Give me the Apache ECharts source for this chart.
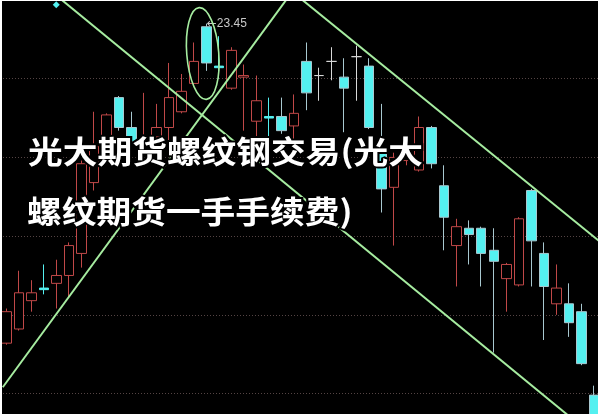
<!DOCTYPE html>
<html><head><meta charset="utf-8">
<script src="https://cdn.jsdelivr.net/npm/echarts@6/dist/echarts.min.js"></script>
<style>html,body{margin:0;padding:0;background:#000;}#c{width:600px;height:414px;}</style>
</head><body><div id="c"></div>
<script>
const categories = ['D01','D02','D03','D04','D05','D06','D07','D08','D09','D10','D11','D12','D13','D14','D15','D16','D17','D18','D19','D20','D21','D22','D23','D24','D25','D26','D27','D28','D29','D30','D31','D32','D33','D34','D35','D36','D37','D38','D39','D40','D41','D42','D43','D44','D45','D46','D47','D48'];
const opens  = [21.42,21.51,21.69,21.77,21.80,21.85,21.99,22.44,22.73,22.98,22.79,22.67,22.73,22.79,22.89,23.07,23.43,23.18,23.04,23.11,22.83,22.86,22.86,22.80,23.21,23.12,23.21,23.11,23.24,23.18,22.64,22.41,22.58,22.52,22.79,22.42,22.04,22.15,22.15,22.01,21.83,21.79,22.39,21.99,21.67,21.67,21.62,21.09];
const closes = [21.62,21.74,21.74,21.76,21.85,22.04,22.56,22.67,22.87,22.79,22.70,22.70,22.79,22.98,23.02,23.21,23.20,23.17,23.28,23.12,22.96,22.85,22.77,22.88,23.01,23.12,23.21,23.04,23.24,22.79,22.40,22.60,22.63,22.79,22.56,22.22,22.16,22.11,21.99,21.94,21.92,22.21,22.07,21.78,21.77,21.55,21.29,20.93];
const lows   = [21.41,21.50,21.62,21.73,21.64,21.71,21.90,22.39,22.56,22.77,22.69,22.56,22.65,22.71,22.88,23.06,23.15,23.10,23.03,22.77,22.73,22.71,22.75,22.71,22.90,22.96,23.09,22.76,22.96,22.78,22.25,22.04,22.55,22.51,22.53,22.01,21.78,21.92,21.78,21.36,21.62,21.78,21.78,21.44,21.60,21.46,21.28,20.90];
const highs  = [21.64,21.88,21.82,21.92,21.95,22.06,22.58,22.89,22.88,22.99,22.89,23.01,22.94,23.20,23.13,23.33,23.45,23.37,23.30,23.19,23.12,22.98,22.98,23.00,23.33,23.17,23.30,23.23,23.31,23.23,22.94,22.63,22.66,22.86,22.80,22.55,22.21,22.20,22.16,22.15,21.93,22.22,22.40,22.06,21.92,21.80,21.67,21.15];
const gridValues = [23.10, 22.60, 22.10, 21.60, 21.10];
const trendA = [[3.68, 23.65], [45.89, 20.90]];
const trendB = [[-0.28, 21.14], [22.85, 23.65]];
const trendC = [[22.92, 23.65], [47.87, 22.04]];
const peakIndex = 16, peakValue = 23.45;
const markerIndex = 4, markerValue = 23.57;
const ellipseCenter = [15.72, 23.26];
const titleLines = ['光大期货螺纹钢交易(光大', '螺纹期货一手手续费)'];

const RED = '#c04848', CYAN = '#54f0f0', WICK0 = '#a8c8d0', GREEN = '#a6eca0';
const candleData = opens.map((o, i) => {
  const c = closes[i];
  const item = { value: [o, c, lows[i], highs[i]] };
  const d = Math.abs(o - c);
  if (d < 0.001) item.itemStyle = { borderColor: '#d8d8d8', borderColor0: '#d8d8d8', borderColorDoji: '#d8d8d8' };
  else if (d < 0.015 && c < o) item.itemStyle = { borderColor0: CYAN };
  return item;
});

const chart = echarts.init(document.getElementById('c'), null, { renderer: 'canvas' });
const trendStyle = { type: 'line', xAxisIndex: 1, yAxisIndex: 0, symbol: 'none', silent: true, z: 5,
  lineStyle: { color: GREEN, width: 2 }, animation: false };
chart.setOption({
  backgroundColor: '#000',
  animation: false,
  grid: { left: -5.8, right: -0.3, top: 0, bottom: 0 },
  xAxis: [
    { type: 'category', data: categories, show: false, boundaryGap: true },
    { type: 'value', min: -0.5, max: 47.5, show: false }
  ],
  yAxis: { type: 'value', min: 20.97, max: 23.60, show: false, splitLine: { show: false } },
  series: [
    { type: 'line', xAxisIndex: 1, data: [], z: 1, silent: true,
      markLine: { silent: true, symbol: ['none', 'none'], label: { show: false }, z: 1,
        lineStyle: { type: [1, 2], color: '#544444', width: 1 },
        data: gridValues.map(v => ({ yAxis: v })) } },
    { type: 'candlestick', data: candleData, barWidth: 10, z: 3,
      itemStyle: { color: '#000', color0: CYAN, borderColor: RED, borderColor0: WICK0, borderWidth: 1, borderColorDoji: '#d8d8d8' },
      markPoint: {
        animation: false,
        data: [
          { coord: [peakIndex, peakValue], value: peakValue, symbol: 'circle', symbolSize: 1,
            itemStyle: { color: 'rgba(0,0,0,0)' },
            label: { show: true, position: 'right', distance: 0, formatter: '{a|←}{b|{c}}',
              rich: {
                a: { color: '#c8c8c8', fontSize: 12, fontFamily: 'DejaVu Sans' },
                b: { color: '#c8c8c8', fontSize: 12, fontFamily: 'Liberation Sans' }
              } } },
          { coord: [markerIndex, markerValue], symbol: 'diamond', symbolSize: 7,
            itemStyle: { color: CYAN }, label: { show: false } }
        ]
      } },
    Object.assign({ data: trendA }, trendStyle),
    Object.assign({ data: trendB }, trendStyle),
    Object.assign({ data: trendC }, trendStyle)
  ]
});

const ec = chart.convertToPixel({ xAxisIndex: 1, yAxisIndex: 0 }, ellipseCenter);
const titleFont = 'bold 31px "Noto Sans CJK SC"';
chart.setOption({
  graphic: [
    { type: 'ellipse', x: ec[0], y: ec[1], rotation: 0.08, z: 10, silent: true,
      shape: { cx: 0, cy: 0, rx: 16, ry: 46 },
      style: { fill: 'none', stroke: GREEN, lineWidth: 1.6 } },
    { type: 'text', x: 28, y: 151, scaleX: 1.12, z: 20, silent: true,
      style: { text: titleLines[0], fill: '#fff', stroke: '#000', lineWidth: 4, strokeFirst: true,
        font: titleFont, align: 'left', verticalAlign: 'middle' } },
    { type: 'text', x: 27, y: 211, scaleX: 1.12, z: 20, silent: true,
      style: { text: titleLines[1], fill: '#fff', stroke: '#000', lineWidth: 4, strokeFirst: true,
        font: titleFont, align: 'left', verticalAlign: 'middle' } },
    { type: 'rect', z: 30, silent: true, shape: { x: 0, y: 0, width: 2, height: 414 }, style: { fill: '#fff' } },
    { type: 'rect', z: 30, silent: true, shape: { x: 0, y: 0, width: 600, height: 1 }, style: { fill: '#fff' } },
    { type: 'rect', z: 30, silent: true, shape: { x: 598, y: 0, width: 2, height: 414 }, style: { fill: '#fff' } }
  ]
});
</script></body></html>
